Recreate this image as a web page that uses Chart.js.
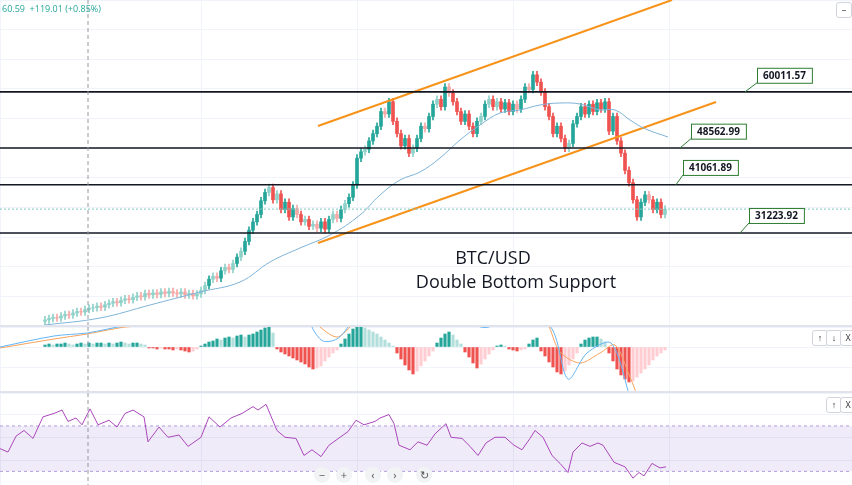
<!DOCTYPE html>
<html><head><meta charset="utf-8">
<script src="https://cdn.jsdelivr.net/npm/chart.js@4.4.1/dist/chart.umd.min.js"></script>
<style>
body{margin:0;background:#fff;width:852px;height:485px;overflow:hidden;font-family:"Open Sans",sans-serif;position:relative}
.p{position:absolute;left:0;width:852px}
#top{position:absolute;left:2px;top:2px;font-size:9px;color:#26a69a;z-index:5}
.sep{position:absolute;left:0;width:852px;height:2px;background:#e0e3eb;z-index:4}
.btn{position:absolute;width:14px;height:14px;border:1px solid #d1d4dc;border-radius:3px;background:#fff;font-size:9px;text-align:center;line-height:14px;color:#333;z-index:5}
.nav{position:absolute;top:467px;width:16px;height:16px;border-radius:8px;background:#f2f3f5;font-size:11px;text-align:center;line-height:16px;color:#555;z-index:5}
</style></head><body>
<div id="top">60.59 &nbsp;+119.01 (+0.85%)</div>
<div class="p" style="top:0;height:326px"><canvas id="c1"></canvas></div>
<div class="sep" style="top:325px"></div>
<div class="p" style="top:327px;height:65px"><canvas id="c2"></canvas></div>
<div class="sep" style="top:391px"></div>
<div class="p" style="top:393px;height:92px"><canvas id="c3"></canvas></div>
<div class="btn" style="left:812px;top:330px">↑</div><div class="btn" style="left:826px;top:330px">↓</div><div class="btn" style="left:840px;top:330px">X</div>
<div class="btn" style="left:826px;top:397px">↑</div><div class="btn" style="left:840px;top:397px">X</div>
<div class="btn" style="left:836px;top:2px">–</div>
<div class="nav" style="left:314px">−</div><div class="nav" style="left:336px">+</div><div class="nav" style="left:365px">‹</div><div class="nav" style="left:387px">›</div><div class="nav" style="left:416px">↻</div>
<script>
// ---- data ----
const closesK = [13.5,13.8,14.0,13.9,14.3,14.6,14.5,14.9,15.2,15.1,15.6,15.9,
16.0,16.3,16.1,16.6,16.9,17.2,17.0,17.5,17.8,17.6,18.1,18.4,18.2,18.9,18.6,
19.0,18.7,19.2,18.9,19.3,19.0,18.8,19.2,18.6,18.9,18.4,18.8,
19.5,20.5,21.8,22.4,22.0,23.5,24.2,23.8,25.0,26.3,27.5,
29.5,31.8,33.5,35.0,37.8,39.5,40.5,
38.0,39.2,36.0,37.5,34.5,36.2,35.0,33.5,34.0,32.6,33.0,32.2,
33.5,32.0,34.0,35.0,34.2,36.0,37.2,38.5,41.0,
46.5,47.8,48.3,50.0,51.5,53.0,56.0,55.5,58.0,
54.0,51.5,49.0,50.5,47.5,48.5,
50.5,53.0,52.5,55.0,57.5,58.5,57.0,61.0,
59.8,58.0,56.0,54.0,55.5,53.0,51.5,54.0,
55.0,57.5,58.5,57.0,58.0,56.5,57.8,56.0,57.5,56.5,
58.5,61.0,60.5,63.5,62.0,60.0,
57.0,55.0,51.5,53.0,50.5,48.5,49.5,
53.5,55.0,57.0,55.5,57.5,56.0,57.8,56.5,58.0,
52.0,55.0,50.0,47.5,44.0,41.5,38.0,34.5,
37.5,39.0,38.0,36.0,37.5,35.0,36.1];
const maIdx = [0,13.75,26.25,38.75,48.75,56.25,63.75,71.25,78.75,83.75,88.75,93.75,98.75,103.75,108.75,113.75,118.75,123.75,128.75,133.75,138.75,142.5,146.25,150,155.75];
const maVal = [12456,13884,16536,19188,21228,25308,28164,30816,34896,38976,42036,43668,46524,50196,53256,55704,56316,57336,57744,57540,56316,56316,54276,52500,50808];
const levels = [60011.57,48562.99,41061.89,31223.92];
const lastPrice = 36100;
const channelUpper = [[68.25,53052],[156.75,78756]];
const channelLower = [[68.25,29184],[167.75,57948]];
const hist = [2,3,2,3,3,4,3,2,3,4,3,4,3,4,4,3,4,3,4,5,4,3,4,4,3,2,
-1,-1,-2,-1,-2,-2,-3,-2,-3,-4,-5,-4,-2,
1,3,5,6,8,7,9,10,9,11,12,10,12,13,15,17,19,21,14,
-2,-5,-7,-9,-11,-13,-15,-17,-20,-22,-21,-19,-14,-10,-6,-3,
3,8,13,18,20,21,19,17,15,13,10,7,4,1,
-6,-12,-18,-23,-27,-24,-19,-14,-9,-4,
4,9,13,15,12,7,3,
-5,-10,-16,-21,-17,-12,-7,-3,
1,2,1,-2,-3,-4,-3,-2,3,7,9,
-4,-9,-15,-20,-25,-27,-24,-18,-12,-6,
3,7,9,10,10,8,5,
-6,-14,-22,-28,-32,-35,-34,-30,-26,-22,-18,-13,-9,-6,-3];
const macdIdx = [-11.25,2.25,10.5,20,26.75,30,63.75,66.75,69.5,73,75.75,78.75,106.25,108.25,111,113.75,126,130.75,135.5,141.5,146.25];
const macdVal = [0,11,14,21,21,27,60,20,6,8,20,40,30,21,20,30,22,-32,-6,4,-50];
const sigIdx = [-11.25,2.25,10.5,20,26.75,30,63.75,68.75,73,76.25,78.75,123.75,128.75,133.75,138.75,142.5,146.25,148];
const sigVal = [-1,8,13,20,22,30,40,20,10,20,35,30,-5,-16,-6,2,-30,-48];
const rsiIdx = [-11.25,-9.25,-7.25,-5.25,-3,-0.5,2.25,4.25,5.75,7.75,9.25,11.25,13.25,16,18,20,22,24.75,25.75,28.5,30.75,33.5,35.75,39,41,43.75,46.5,49.25,52,53.25,55.25,58,60,62.75,64.75,66.75,69,71,73.75,75.75,77.75,79.75,82.5,83.75,86,87.25,88.5,91.25,93.25,95.5,97.5,100.25,101.5,104.25,106.25,108.25,110.25,112.5,115,117.25,119.25,121.25,122.5,124.5,126.75,128.75,130.75,132,134.25,136.25,138.25,139.5,142.25,145,147,148.5,149.75,151.75,153.75,155.25];
const rsiVal = [50,47,61,66,59,78,81,84,74,77,71,85,71,75,69,81,84,78,56,69,60,62,52,60,78,69,77,81,87,84,89,66,60,59,44,49,43,53,60,65,75,71,74,77,80,72,53,49,56,53,63,72,60,59,52,44,55,60,60,53,49,59,66,60,44,37,29,47,55,52,55,53,38,34,24,29,26,37,33,34];

// ---- build ----
const UP='#26a69a', DN='#ef5350';
const closes = closesK.map(v=>v*1000);
const bodies=[], wicks=[], bcol=[];
closes.forEach((c,i)=>{
  const o = i? closes[i-1] : c-300;
  bodies.push({x:i,y:[o,c]});
  wicks.push({x:i,y:[Math.min(o,c)-700,Math.max(o,c)+700]});
  const up=c>=o, big=Math.abs(c-o)>1200;
  bcol.push(up?(big?UP:'#8fd2c9'):(big?DN:'#f7a9a7'));
});
const XMIN=-11.25, XMAX=201.75;
const xs = {type:'linear',offset:false,min:XMIN,max:XMAX,grid:{color:'#f0f3fa',drawTicks:false,offset:false},ticks:{display:false,stepSize:39},border:{display:false}};
const vline = {id:'vline',afterDatasetsDraw(ch){const c=ch.ctx,x=ch.scales.x.getPixelForValue(10.75);c.save();c.strokeStyle='#9598a1';c.setLineDash([4,3]);c.lineWidth=1;c.beginPath();c.moveTo(x,0);c.lineTo(x,ch.height);c.stroke();c.restore();}};
const base = {responsive:true,maintainAspectRatio:false,animation:false,layout:{padding:0},plugins:{legend:{display:false},tooltip:{enabled:false}}};

const annot = [
 {t:'60011.57',i:178,p:63400,li:175,lp:60011.57},
 {t:'48562.99',i:161.5,p:52000,li:158.75,lp:48562.99},
 {t:'41061.89',i:159.5,p:44600,li:157.75,lp:41061.89},
 {t:'31223.92',i:176,p:34800,li:173.75,lp:31223.92}];
const labels = {id:'labels',afterDatasetsDraw(ch){
  const c=ch.ctx,X=ch.scales.x,Y=ch.scales.y;c.save();
  c.font='bold 10px "Open Sans"';
  annot.forEach(a=>{
    const x=X.getPixelForValue(a.i),y=Y.getPixelForValue(a.p),w=c.measureText(a.t).width+12,h=15;
    c.strokeStyle='#2e7d32';c.lineWidth=1;
    c.beginPath();c.moveTo(x,y+h/2);c.lineTo(X.getPixelForValue(a.li),Y.getPixelForValue(a.lp));c.stroke();
    c.fillStyle='#fff';c.fillRect(x,y-h/2,w,h);c.strokeRect(x+0.5,y-h/2+0.5,w,h);
    c.fillStyle='#131722';c.textBaseline='middle';c.fillText(a.t,x+6,y+0.5);
  });
  c.font='500 18px "Open Sans"';c.fillStyle='#131722';c.textAlign='center';c.textBaseline='middle';
  c.fillText('BTC/USD',X.getPixelForValue(112),Y.getPixelForValue(26000));
  c.fillText('Double Bottom Support',X.getPixelForValue(117.75),Y.getPixelForValue(21100));
  c.restore();}};

const lvlDs = levels.map(l=>({type:'line',data:[{x:XMIN,y:l},{x:XMAX,y:l}],borderColor:'#131722',borderWidth:1.6,pointRadius:0}));
new Chart(document.getElementById('c1'),{type:'bar',data:{datasets:[
 ...lvlDs,
 {type:'line',data:[{x:XMIN,y:lastPrice},{x:XMAX,y:lastPrice}],borderColor:'#7fc8bf',borderDash:[2,2],borderWidth:1,pointRadius:0},
 {type:'line',data:maIdx.map((x,i)=>({x,y:maVal[i]})),borderColor:'#7fb3d8',borderWidth:1,pointRadius:0,tension:0.4},
 {type:'line',data:channelUpper.map(p=>({x:p[0],y:p[1]})),borderColor:'#f7931a',borderWidth:2,pointRadius:0},
 {type:'line',data:channelLower.map(p=>({x:p[0],y:p[1]})),borderColor:'#f7931a',borderWidth:2,pointRadius:0},
 {data:wicks,backgroundColor:bcol,barThickness:1,grouped:false},
 {data:bodies,backgroundColor:bcol,barThickness:3,grouped:false}
]},options:{...base,scales:{x:xs,y:{min:12252,max:78756,grid:{color:'#f0f3fa',drawTicks:false},ticks:{display:false,stepSize:6120},border:{display:false}}}},plugins:[vline,labels]});

const hcol = hist.map((h,i)=>{const p=i?hist[i-1]:0;return h>=0?(h>=p?'#26a69a':'#b2dfdb'):(h<=p?'#ef5350':'#ffcdd2');});
new Chart(document.getElementById('c2'),{type:'bar',data:{datasets:[
 {type:'line',data:macdIdx.map((x,i)=>({x,y:macdVal[i]})),borderColor:'#64b5f6',borderWidth:1,pointRadius:0,tension:0.3},
 {type:'line',data:sigIdx.map((x,i)=>({x,y:sigVal[i]})),borderColor:'#f7a35c',borderWidth:1,pointRadius:0,tension:0.3},
 {data:hist.map((h,i)=>({x:i,y:h})),backgroundColor:hcol,barThickness:2.5}
]},options:{...base,scales:{x:xs,y:{min:-45,max:20,grid:{color:'#f0f3fa',drawTicks:false},ticks:{display:false,stepSize:20},border:{display:false}}}},plugins:[vline]});

const band={id:'band',beforeDatasetsDraw(ch){const c=ch.ctx,Y=ch.scales.y,a=ch.chartArea,y1=Y.getPixelForValue(70),y2=Y.getPixelForValue(30);c.save();c.fillStyle='rgba(126,87,194,0.12)';c.fillRect(a.left,y1,a.right-a.left,y2-y1);c.strokeStyle='#b39ddb';c.setLineDash([3,3]);c.beginPath();c.moveTo(a.left,y1);c.lineTo(a.right,y1);c.moveTo(a.left,y2);c.lineTo(a.right,y2);c.stroke();c.restore();}};
new Chart(document.getElementById('c3'),{type:'line',data:{datasets:[
 {data:rsiIdx.map((x,i)=>({x,y:rsiVal[i]})),borderColor:'#ab47bc',borderWidth:1,pointRadius:0}
]},options:{...base,scales:{x:xs,y:{min:18,max:99,grid:{color:'#f0f3fa',drawTicks:false},ticks:{display:false,stepSize:20},border:{display:false}}}},plugins:[vline,band]});
</script></body></html>
